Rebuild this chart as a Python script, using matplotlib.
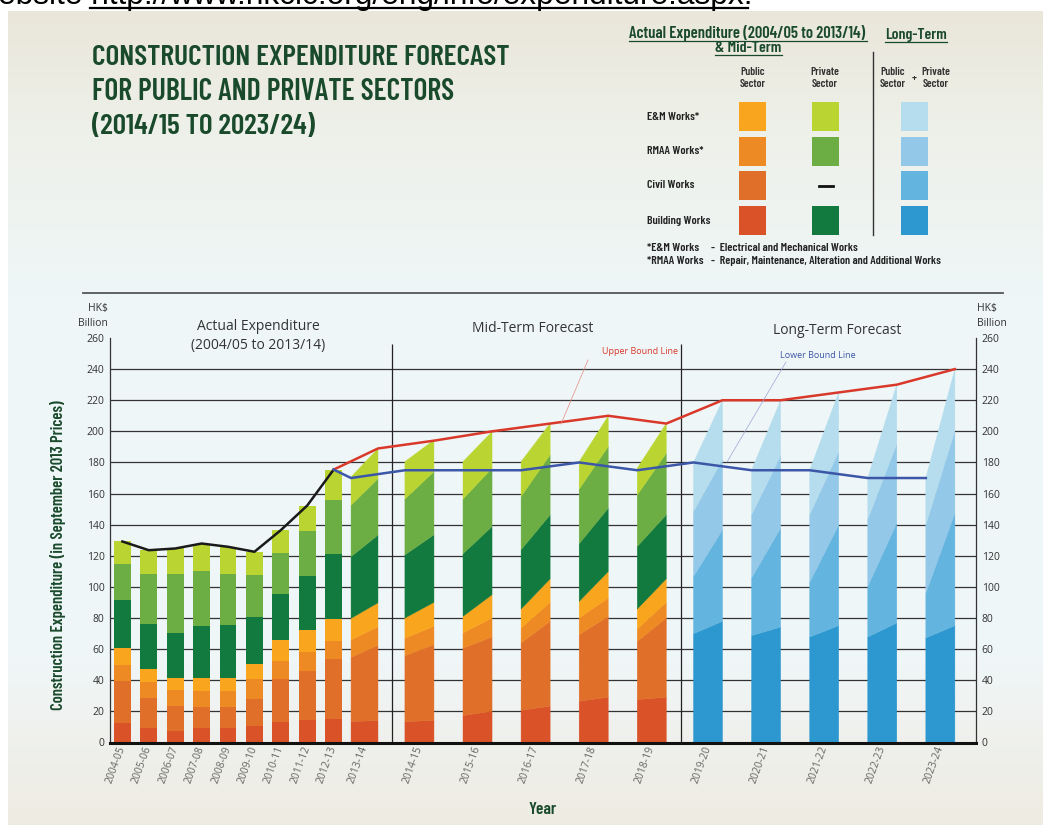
import numpy as np
import matplotlib
matplotlib.use("Agg")
import matplotlib.pyplot as plt
from matplotlib.patches import Rectangle
from matplotlib.colors import LinearSegmentedColormap

plt.rcParams['font.family'] = ['Open Sans', 'DejaVu Sans']
NARROW = ['Barlow Condensed', 'DejaVu Sans']

# ---------------- data (HK$ billion) ----------------
actual_years = ['2004-05', '2005-06', '2006-07', '2007-08', '2008-09',
                '2009-10', '2010-11', '2011-12', '2012-13']
range_years = ['2013-14', '2014-15', '2015-16', '2016-17', '2017-18', '2018-19']
long_years = ['2019-20', '2020-21', '2021-22', '2022-23', '2023-24']

# order bottom -> top: public building, public civil, public RMAA, public E&M,
#                      private building, private RMAA, private E&M
actual_parts = np.array([
    [12.4, 27.4, 10.0, 10.9, 31.1, 22.9, 14.5],
    [9.0, 19.9, 9.8, 8.6, 28.8, 32.1, 15.4],
    [7.1, 16.6, 10.1, 7.5, 28.9, 38.0, 16.5],
    [9.0, 14.1, 10.1, 8.1, 33.6, 35.3, 17.7],
    [9.0, 13.5, 10.7, 8.1, 34.2, 32.7, 17.6],
    [10.3, 17.9, 12.4, 9.9, 30.1, 27.0, 15.0],
    [13.3, 27.6, 11.7, 13.1, 29.7, 26.1, 15.0],
    [14.5, 31.7, 12.2, 13.9, 34.9, 28.8, 16.3],
    [15.2, 38.3, 11.7, 14.2, 41.5, 34.8, 19.7],
])
# provisional 2013-14 and mid-term: lower estimate / upper estimate
range_low = np.array([
    [13.5, 41.3, 11.1, 13.9, 39.6, 33.1, 18.2],
    [13.3, 42.5, 11.2, 13.0, 40.6, 35.8, 24.1],
    [17.3, 43.4, 9.7, 10.7, 40.2, 35.1, 24.1],
    [20.7, 43.3, 9.6, 12.2, 38.1, 34.2, 22.4],
    [26.5, 42.8, 10.7, 10.7, 37.0, 35.1, 17.7],
    [27.6, 37.4, 7.9, 12.9, 40.2, 33.1, 17.2],
])
range_high = np.array([
    [14.1, 48.4, 11.9, 15.4, 43.5, 36.3, 19.3],
    [14.3, 48.6, 11.8, 15.4, 43.4, 40.6, 20.3],
    [20.1, 47.7, 12.2, 15.0, 43.8, 37.5, 23.5],
    [23.3, 54.6, 12.2, 15.1, 41.1, 38.5, 20.3],
    [29.1, 52.0, 11.7, 17.1, 40.7, 39.6, 19.6],
    [29.1, 50.9, 10.1, 15.1, 41.1, 39.6, 19.2],
])
# long-term (public + private): building, civil, RMAA, E&M
long_low = np.array([
    [69.9, 36.8, 41.7, 31.6],
    [68.7, 37.0, 40.6, 28.7],
    [67.8, 35.1, 43.4, 28.7],
    [67.8, 32.5, 43.2, 26.5],
    [67.2, 28.8, 43.9, 30.1],
])
long_high = np.array([
    [77.9, 58.8, 45.3, 38.0],
    [74.2, 63.6, 46.4, 35.8],
    [75.1, 64.8, 47.1, 38.0],
    [76.8, 64.2, 50.9, 38.1],
    [75.1, 72.3, 53.0, 39.6],
])
lower_bound = [170, 175, 175, 175, 180, 175, 180, 175, 175, 170, 170]
upper_bound = [189, 194, 200, 205, 210, 205, 220, 220, 225, 230, 240]

part_colors = ['#da5227', '#e06f29', '#ee8a24', '#f9a61e',
               '#137a3f', '#6cae44', '#bad532']
long_colors = ['#2d98cf', '#63b4df', '#93c8e8', '#b5ddee']
GREEN = '#1a4a2c'

# ---------------- layout ----------------
x_actual = np.arange(len(actual_years))
x_range = np.r_[9.17, 11.25 + 2.2 * np.arange(5)]
w_range = np.r_[1.02, np.full(5, 1.1)]
x_long = 22.18 + 2.2 * np.arange(len(long_years))
w_long = 1.1

W, H = 1043, 825
fig = plt.figure(figsize=(W / 100, H / 100), dpi=100, facecolor='white')
renderer = fig.canvas.get_renderer()


def fit(t, width_px):
    # scale a text so that it spans the given width in pixels
    bb = t.get_window_extent(renderer)
    t.set_fontsize(t.get_fontsize() * width_px / bb.width)
    return t


def fit_h(t, height_px):
    bb = t.get_window_extent(renderer)
    t.set_fontsize(t.get_fontsize() * height_px / bb.height)
    return t


# background gradient panel
bg = fig.add_axes([8 / W, 0, 1 - 8 / W, (H - 11) / H])
cmap = LinearSegmentedColormap.from_list(
    'bg', [(0, '#eae6da'), (0.15, '#eef1ea'), (0.35, '#eff6f7'),
           (0.8, '#f0f6f7'), (1, '#eeebe2')])
bg.imshow(np.linspace(0, 1, 256).reshape(-1, 1), cmap=cmap, aspect='auto',
          extent=(0, 1, 0, 1))
bg.axis('off')

# ---------------- main chart ----------------
ax = fig.add_axes([110 / W, (H - 742.5) / H, (976 - 110) / W, (742.5 - 338) / H])
ax.set_facecolor('none')
ax.set_xlim(-0.47, 32.33)
ax.set_ylim(0, 260)

for v in range(20, 260, 20):
    ax.axhline(v, color='#333333', lw=0.9, zorder=1)
ax.vlines([10.2, 21.16], 0, 256, color='#222222', lw=0.9, zorder=1)

bottom = np.zeros(len(actual_years))
for k, c in enumerate(part_colors):
    ax.bar(x_actual, actual_parts[:, k], 0.64, bottom=bottom, color=c, lw=0, zorder=2)
    bottom += actual_parts[:, k]


def slanted_bar(xc, w, low, high, colors):
    lo = np.r_[0, np.cumsum(low)]
    hi = np.r_[0, np.cumsum(high)]
    xl, xr = xc - w / 2, xc + w / 2
    for k, c in enumerate(colors):
        ax.fill([xl, xr, xr, xl], [lo[k], hi[k], hi[k + 1], lo[k + 1]],
                color=c, ec=c, lw=0.3, zorder=2)


for i in range(len(range_years)):
    slanted_bar(x_range[i], w_range[i], range_low[i], range_high[i], part_colors)
for i in range(len(long_years)):
    slanted_bar(x_long[i], w_long, long_low[i], long_high[i], long_colors)

actual_total = actual_parts.sum(axis=1)
ax.plot(x_actual, actual_total, color='#1a1a1a', lw=1.8, zorder=4)

all_fx = np.r_[x_range, x_long]
all_fw = np.r_[w_range, np.full(len(x_long), w_long)]
ax.plot(np.r_[x_actual[-1], all_fx + all_fw / 2], np.r_[actual_total[-1], upper_bound],
        color='#d9392b', lw=1.8, zorder=4)
ax.plot(np.r_[x_actual[-1], all_fx - all_fw / 2], np.r_[actual_total[-1], lower_bound],
        color='#3c57a8', lw=1.8, zorder=4)

ax.spines['top'].set_visible(False)
for s in ['left', 'right']:
    ax.spines[s].set_color('#333333')
    ax.spines[s].set_linewidth(0.9)
ax.spines['bottom'].set_linewidth(2.2)
ax.spines['bottom'].set_color('#111111')

ax.set_yticks(range(0, 261, 20))
ax.tick_params(axis='y', length=0, labelsize=7.5, labelcolor='#333333', pad=4,
               labelright=True)
ax.set_xticks(np.r_[x_actual, x_range, x_long])
ax.set_xticklabels(actual_years + range_years + long_years)
ax.tick_params(axis='x', length=0, pad=3, labelsize=7.5, labelcolor='#666666')
for t in ax.get_xticklabels():
    t.set(rotation=70, ha='right', va='center', rotation_mode='anchor')

# ---------------- overlay texts ----------------
ov = fig.add_axes([0, 0, 1, 1], facecolor='none')
ov.set_xlim(0, W)
ov.set_ylim(H, 0)
ov.axis('off')

url = ov.text(-2, 4, 'ebsite http://www.hkcic.org/eng/info/expenditure.aspx.',
              fontsize=18, family='Liberation Sans', color='black', va='baseline')
fit(url, 752)
ov.plot([90, 748], [7.5, 7.5], color='black', lw=1.6)

for y, s, wd in zip([65, 100, 134],
                    ['CONSTRUCTION EXPENDITURE FORECAST',
                     'FOR PUBLIC AND PRIVATE SECTORS',
                     '(2014/15 TO 2023/24)'],
                    [416, 361, 223]):
    t = ov.text(92, y, s, family=NARROW, weight='semibold', fontsize=20,
                color=GREEN, va='baseline')
    fit(t, wd)

# legend
hdr = dict(family=NARROW, weight='semibold', fontsize=9, color=GREEN, va='baseline')
fit(ov.text(629, 38, 'Actual Expenditure (2004/05 to 2013/14)', **hdr), 238)
fit(ov.text(715, 52, '& Mid-Term', **hdr), 67)
fit(ov.text(885, 39, 'Long-Term', **hdr), 62)
ov.plot([629, 867], [41, 41], color=GREEN, lw=0.9)
ov.plot([715, 782], [55, 55], color=GREEN, lw=0.9)
ov.plot([885, 947], [42, 42], color=GREEN, lw=0.9)

col = dict(family=NARROW, weight='semibold', fontsize=8.2, color='#333333',
           ha='center', va='center')
for x, s in [(753, 'Public'), (825, 'Private'), (893, 'Public'), (936, 'Private')]:
    ov.text(x, 72, s, **col)
    ov.text(x, 84, 'Sector', **col)
ov.text(914, 79, '+', **col)

rows = ['E&M Works*', 'RMAA Works*', 'Civil Works', 'Building Works']
row_y = [102, 137, 171, 206]
pri_map = {0: part_colors[6], 1: part_colors[5], 3: part_colors[4]}
row_texts = []
for i, (s, y) in enumerate(zip(rows, row_y)):
    row_texts.append(ov.text(647, y + 14.5, s, family=NARROW, weight='semibold',
                             fontsize=8, color='#222222', va='center'))
    ov.add_patch(Rectangle((739, y), 27, 29, color=part_colors[3 - i], lw=0))
    if i in pri_map:
        ov.add_patch(Rectangle((812, y), 27, 29, color=pri_map[i], lw=0))
    ov.add_patch(Rectangle((901, y), 27, 29, color=long_colors[3 - i], lw=0))
row_fs = fit(row_texts[-1], 63).get_fontsize()
for t in row_texts:
    t.set_fontsize(row_fs)
ov.plot([819, 833], [185.5, 185.5], color='#111111', lw=2)
ov.plot([873, 873], [52, 235], color='#333333', lw=1)

foot = dict(family=NARROW, weight='semibold', fontsize=row_fs, color='#222222', va='center')
ov.text(647, 248, '*E&M Works', **foot)
ov.text(711, 248, '-  Electrical and Mechanical Works', **foot)
ov.text(647, 261, '*RMAA Works', **foot)
fit(ov.text(711, 261, '-  Repair, Maintenance, Alteration and Additional Works', **foot), 232)

ov.plot([83, 1003], [293, 293], color='#555555', lw=1.3)

# section headings
sec = dict(fontsize=10, color='#333333', ha='center', va='center')
ov.text(258, 326, 'Actual Expenditure', **sec)
ov.text(258, 345, '(2004/05 to 2013/14)', **sec)
ov.text(533, 328, 'Mid-Term Forecast', **sec)
ov.text(837, 330, 'Long-Term Forecast', **sec)

unit = dict(fontsize=7.5, color='#333333', va='center')
ov.text(108, 309, 'HK$', ha='right', **unit)
ov.text(108, 323, 'Billion', ha='right', **unit)
ov.text(977, 309, 'HK$', ha='left', **unit)
ov.text(977, 323, 'Billion', ha='left', **unit)

ov.text(640, 351, 'Upper Bound Line', fontsize=6.5, color='#d9392b', ha='center', va='center')
ov.plot([588, 561], [360, 424], color='#e58a80', lw=0.5)
ov.text(818, 355, 'Lower Bound Line', fontsize=6.5, color='#3c57a8', ha='center', va='center')
ov.plot([786, 727], [362, 462], color='#9aa6d8', lw=0.5)

ylab = ov.text(58, 555, 'Construction Expenditure (in September 2013 Prices)', family=NARROW,
               weight='semibold', fontsize=10, color=GREEN, rotation=90,
               ha='center', va='center')
fit_h(ylab, 310)
ov.text(543, 810, 'Year', family=NARROW, weight='semibold', fontsize=12.5, color=GREEN,
        ha='center', va='center')

fig.savefig('out.png', dpi=100, facecolor='white')
